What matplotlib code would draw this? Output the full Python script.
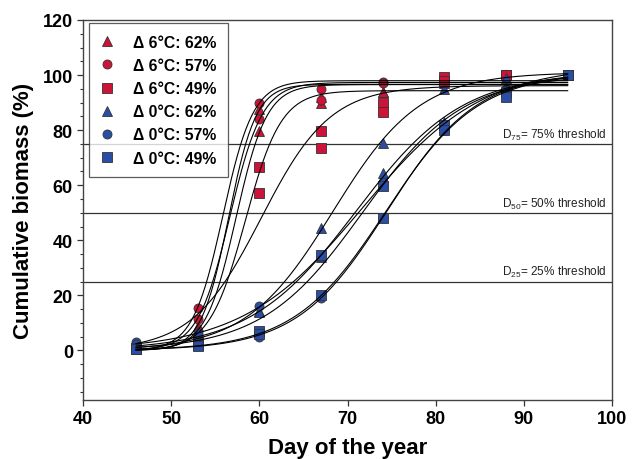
import matplotlib
matplotlib.use("Agg")
import matplotlib.pyplot as plt
from matplotlib.lines import Line2D
import numpy as np

plt.rcParams["font.family"] = ["Liberation Sans", "DejaVu Sans"]
plt.rcParams["mathtext.default"] = "regular"

# ── Data ──────────────────────────────────────────────────
days = [46, 53, 60, 67, 74, 81, 88, 95]

# two replicates per treatment, cumulative biomass (%)
w6_62_a = [1.0, 9.0, 87.5, 92.0, 94.0, 97.0, 100.0, 100.0]
w6_62_b = [1.0, 7.0, 79.6, 90.0, 94.0, 98.0, 100.0, 100.0]
w6_57_a = [1.5, 15.5, 90.0, 95.0, 97.5, 98.0, 99.0, 100.0]
w6_57_b = [1.0, 11.5, 84.0, 91.0, 97.0, 98.0, 100.0, 100.0]
w6_49_a = [0.5, 3.0, 66.5, 79.6, 90.0, 99.4, 100.0, 100.0]
w6_49_b = [0.5, 2.5, 57.0, 73.6, 86.6, 98.0, 100.0, 100.0]

w0_62_a = [1.5, 6.0, 14.2, 44.5, 75.5, 95.0, 99.0, 100.0]
w0_62_b = [1.0, 5.0, 14.0, 34.0, 64.5, 83.0, 95.0, 100.0]
w0_57_a = [3.0, 6.5, 16.0, 34.0, 61.0, 82.0, 95.0, 100.0]
w0_57_b = [2.5, 3.0, 5.0, 19.0, 48.0, 80.0, 93.0, 100.0]
w0_49_a = [1.0, 2.0, 7.0, 34.5, 59.6, 82.0, 94.0, 100.0]
w0_49_b = [0.5, 1.5, 6.0, 20.3, 48.0, 80.0, 92.0, 100.0]

labels = ["Δ 6°C: 62%", "Δ 6°C: 57%", "Δ 6°C: 49%",
          "Δ 0°C: 62%", "Δ 0°C: 57%", "Δ 0°C: 49%"]
replicates = [(w6_62_a, w6_62_b), (w6_57_a, w6_57_b), (w6_49_a, w6_49_b),
              (w0_62_a, w0_62_b), (w0_57_a, w0_57_b), (w0_49_a, w0_49_b)]
markers = ["^", "o", "s", "^", "o", "s"]
RED = "#CF1237"
BLUE = "#2A4DA5"
colors = [RED, RED, RED, BLUE, BLUE, BLUE]

thresholds = [75, 50, 25]


def fit_sigmoid(x, y):
    # 3-parameter logistic, brute-force grid on x0 and b, a solved linearly
    x = np.asarray(x, float)
    y = np.asarray(y, float)
    x0s = np.arange(45, 85, 0.05)
    bs = np.arange(0.5, 12, 0.02)
    X0, B = np.meshgrid(x0s, bs, indexing="ij")
    f = 1.0 / (1.0 + np.exp(-(x[None, None, :] - X0[..., None]) / B[..., None]))
    a = (f * y).sum(-1) / (f * f).sum(-1)
    sse = ((a[..., None] * f - y) ** 2).sum(-1)
    i = np.unravel_index(np.argmin(sse), sse.shape)
    return a[i], X0[i], B[i]


fig = plt.figure(figsize=(6.32, 4.60), dpi=100)
ax = fig.add_axes([0.1318, 0.1283, 0.8361, 0.8261])

for thr in thresholds:
    ax.axhline(thr, color="#333333", linewidth=0.9, zorder=1)
    ax.text(99.45, thr + 0.8, f"D$_{{{thr}}}$= {thr}% threshold",
            ha="right", va="bottom", fontsize=8.5, color="#222222")

xx = np.linspace(46, 95, 300)
handles = []
for reps, m, c, lab in zip(replicates, markers, colors, labels):
    for rep in reps:
        ax.plot(days, rep, linestyle="none", marker=m, markersize=6.5,
                markerfacecolor=c, markeredgecolor="#333333",
                markeredgewidth=0.6, zorder=3)
        a, x0, b = fit_sigmoid(days, rep)
        ax.plot(xx, a / (1 + np.exp(-(xx - x0) / b)), color="black",
                linewidth=0.8, zorder=4)
    handles.append(Line2D([], [], linestyle="none", marker=m, markersize=6.5,
                          markerfacecolor=c, markeredgecolor="#333333",
                          markeredgewidth=0.6, label=lab))

ax.set_xlim(40, 100)
ax.set_ylim(-18, 120)
ax.set_xticks(range(40, 101, 10))
ax.set_yticks(range(0, 121, 20))
ax.set_yticks(range(-15, 121, 5), minor=True)
ax.tick_params(axis="both", which="major", direction="out", length=4.5,
               width=0.9, labelsize=13, pad=3, color="#333333")
ax.tick_params(axis="y", which="minor", direction="out", length=2.5,
               width=0.8, color="#333333")
for lbl in ax.get_xticklabels() + ax.get_yticklabels():
    lbl.set_fontweight("bold")
for sp in ax.spines.values():
    sp.set_color("#444444")
    sp.set_linewidth(1.0)

ax.set_xlabel("Day of the year", fontsize=16, fontweight="bold", labelpad=7)
ax.set_ylabel("Cumulative biomass (%)", fontsize=16, fontweight="bold",
              labelpad=6)

leg = ax.legend(handles=handles, loc="upper left",
                bbox_to_anchor=(0.011, 0.992), borderaxespad=0,
                prop={"weight": "bold", "size": 11.3}, frameon=True,
                fancybox=False, edgecolor="#333333", labelspacing=0.52,
                handletextpad=1.25, handlelength=0.8, borderpad=0.75)
leg.get_frame().set_linewidth(0.9)
leg.set_zorder(5)

plt.savefig("out.png", dpi=100)
plt.close()
